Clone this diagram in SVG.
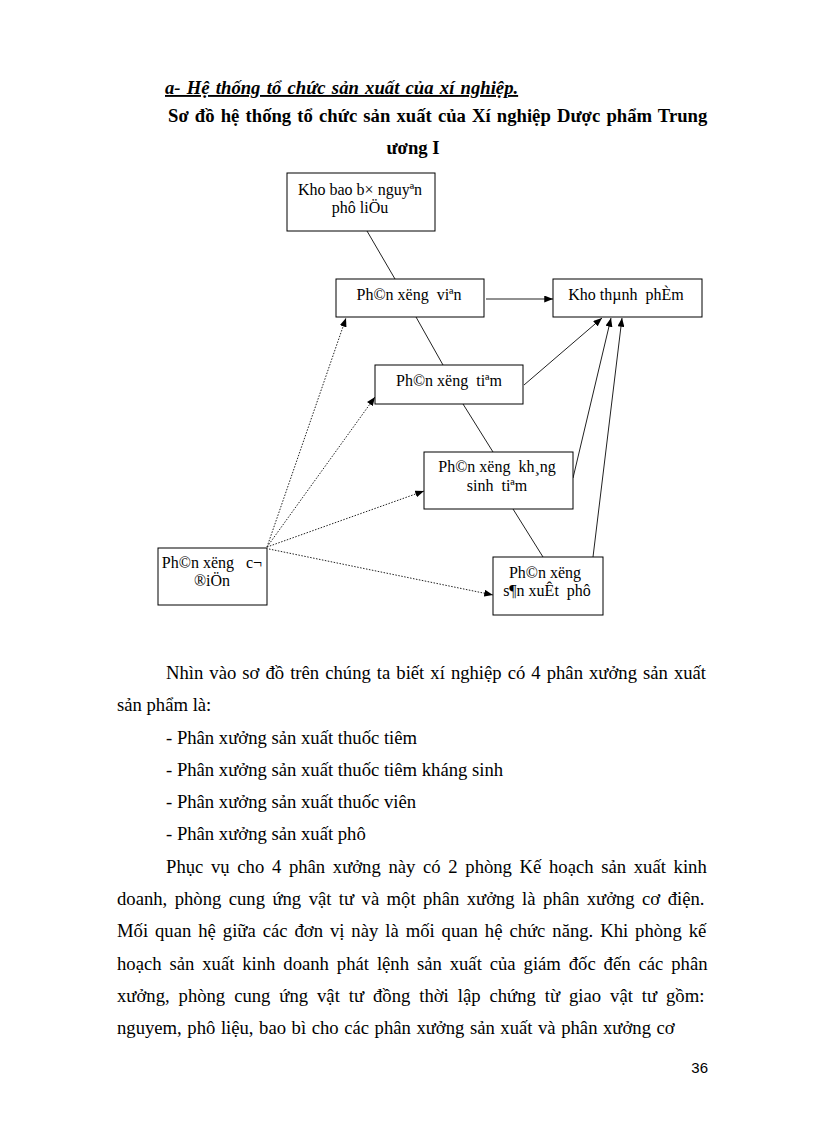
<svg xmlns="http://www.w3.org/2000/svg" width="816" height="1123" viewBox="0 0 816 1123">
<defs>
<style>
.bg{fill:#ffffff}
.box{fill:#ffffff;stroke:#000000;stroke-width:1}
.lbl{font-family:"Liberation Serif","Times New Roman",serif;font-size:16px;fill:#000000;text-anchor:middle;white-space:pre}
.ln{stroke:#222222;stroke-width:1;fill:none}
.ar{stroke:#222222;stroke-width:1;fill:none;marker-end:url(#ah)}
.dot{stroke:#222222;stroke-width:1;fill:none;stroke-dasharray:1.5 1.5;marker-end:url(#ah)}
.body{font-family:"Liberation Serif","Times New Roman",serif;font-size:18.67px;fill:#000000}
.h1{font-family:"Liberation Serif","Times New Roman",serif;font-size:18.67px;font-weight:bold;font-style:italic;text-decoration:underline;fill:#000000}
.h2{font-family:"Liberation Serif","Times New Roman",serif;font-size:18.67px;font-weight:bold;fill:#000000}
.pg{font-family:"Liberation Sans",Arial,sans-serif;font-size:15px;fill:#000000}
</style>
<marker id="ah" viewBox="0 0 10 8" refX="10" refY="4" markerWidth="9" markerHeight="7" markerUnits="userSpaceOnUse" orient="auto">
<path d="M0,0 L10,4 L0,8 Z" fill="#000000"/>
</marker>
</defs>
<rect class="bg" x="0" y="0" width="816" height="1123"/>

<g id="headings">
<text class="h1" x="165" y="94" style="word-spacing:1.6px">a- Hệ thống tổ chức sản xuất của xí nghiệp.</text>
<text class="h2" x="168" y="122" style="word-spacing:1.5px">Sơ đồ hệ thống tổ chức sản xuất của Xí nghiệp Dược phẩm Trung</text>
<text class="h2" x="413" y="154" text-anchor="middle">ương I</text>
</g>

<g id="connectors">
<line class="ln" x1="367" y1="231" x2="395" y2="279"/>
<line class="ln" x1="416" y1="317" x2="443" y2="365"/>
<line class="ln" x1="463" y1="404" x2="493" y2="452"/>
<line class="ln" x1="513" y1="509" x2="543" y2="557"/>
<line class="ar" x1="486" y1="299" x2="553" y2="299"/>
<line class="ar" x1="524" y1="385" x2="602" y2="318"/>
<line class="ar" x1="573" y1="478" x2="611" y2="318"/>
<line class="ar" x1="593" y1="557" x2="622" y2="318"/>
<line class="dot" x1="267" y1="547" x2="346" y2="318"/>
<line class="dot" x1="267" y1="547" x2="375" y2="397"/>
<line class="dot" x1="267" y1="547" x2="424" y2="491"/>
<line class="dot" x1="269" y1="549" x2="493" y2="595"/>
</g>

<g id="node-khobao">
<rect class="box" x="287" y="173" width="148" height="58"/>
<text class="lbl" x="360" y="195">Kho bao b× nguyªn</text>
<text class="lbl" x="360" y="213">phô liÖu</text>
</g>

<g id="node-vien">
<rect class="box" x="336" y="279" width="148" height="38"/>
<text class="lbl" x="409" y="300">Ph©n xëng  viªn</text>
</g>

<g id="node-khothanhpham">
<rect class="box" x="553" y="279" width="149" height="38"/>
<text class="lbl" x="626" y="300">Kho thµnh  phÈm</text>
</g>

<g id="node-tiem">
<rect class="box" x="375" y="365" width="148" height="39"/>
<text class="lbl" x="449" y="386">Ph©n xëng  tiªm</text>
</g>

<g id="node-khangsinh">
<rect class="box" x="424" y="452" width="149" height="57"/>
<text class="lbl" x="497" y="472">Ph©n xëng  kh¸ng</text>
<text class="lbl" x="497" y="491">sinh  tiªm</text>
</g>

<g id="node-codien">
<rect class="box" x="158" y="548" width="109" height="57"/>
<text class="lbl" x="212" y="568">Ph©n xëng   c¬</text>
<text class="lbl" x="212" y="586">®iÖn</text>
</g>

<g id="node-phu">
<rect class="box" x="493" y="557" width="110" height="58"/>
<text class="lbl" x="545" y="578">Ph©n xëng</text>
<text class="lbl" x="547" y="596">s¶n xuÊt  phô</text>
</g>

<g id="body-text">
<text class="body" x="166" y="679" style="word-spacing:1.37px">Nhìn vào sơ đồ trên chúng ta biết xí nghiệp có 4 phân xưởng sản xuất</text>
<text class="body" x="117" y="711">sản phẩm là:</text>
<text class="body" x="166" y="744">- Phân xưởng sản xuất thuốc tiêm</text>
<text class="body" x="166" y="776">- Phân xưởng sản xuất thuốc tiêm kháng sinh</text>
<text class="body" x="166" y="808">- Phân xưởng sản xuất thuốc viên</text>
<text class="body" x="166" y="840">- Phân xưởng sản xuất phô</text>
<text class="body" x="166" y="873" style="word-spacing:3px">Phục vụ cho 4 phân xưởng này có 2 phòng Kế hoạch sản xuất kinh</text>
<text class="body" x="117" y="905" style="word-spacing:2.76px">doanh, phòng cung ứng vật tư và một phân xưởng là phân xưởng cơ điện.</text>
<text class="body" x="117" y="937" style="word-spacing:2.28px">Mối quan hệ giữa các đơn vị này là mối quan hệ chức năng. Khi phòng kế</text>
<text class="body" x="117" y="970" style="word-spacing:3.25px">hoạch sản xuất kinh doanh phát lệnh sản xuất của giám đốc đến các phân</text>
<text class="body" x="117" y="1002" style="word-spacing:4.27px">xưởng, phòng cung ứng vật tư đồng thời lập chứng từ giao vật tư gồm:</text>
<text class="body" x="117" y="1034" style="word-spacing:0.9px">nguyem, phô liệu, bao bì cho các phân xưởng sản xuất và phân xưởng cơ</text>
<text class="pg" x="708" y="1073" text-anchor="end">36</text>
</g>
</svg>
